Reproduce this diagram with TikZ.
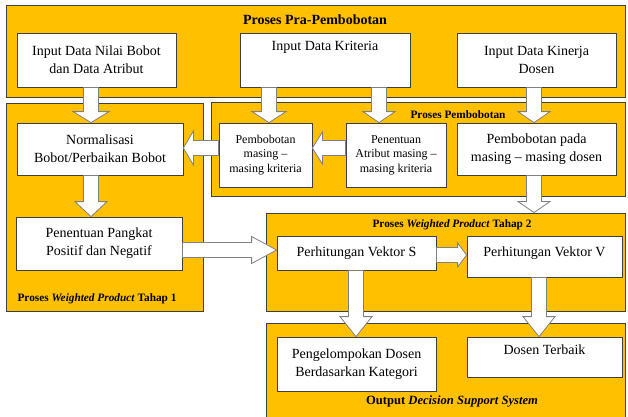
\documentclass[tikz,border=0pt]{standalone}
\usepackage{fontspec}
\setmainfont{Liberation Serif}
\usetikzlibrary{calc}

\definecolor{panelgold}{HTML}{FFC000}
\definecolor{edgegray}{HTML}{3F3F3F}
\definecolor{arrowgray}{HTML}{808080}

% block arrow: from, to, head length, half head width (pt)
\newcommand{\fatarrow}[4]{%
  \coordinate (fa) at ($(#2)!#3pt!(#1)$);
  \draw[fat] ($(#1)!7.5pt!90:(#2)$) -- ($(fa)!7.5pt!90:(#2)$) -- ($(fa)!#4pt!90:(#2)$) -- (#2)
    -- ($(fa)!#4pt!-90:(#2)$) -- ($(fa)!7.5pt!-90:(#2)$) -- ($(#1)!7.5pt!-90:(#2)$) -- cycle;
}

\begin{document}
\begin{tikzpicture}[x=1pt, y=-1pt,
  panel/.style={draw=edgegray, fill=panelgold, line width=0.9pt, inner sep=0pt},
  box/.style={draw=edgegray, fill=white, line width=0.8pt, inner sep=0pt, align=center,
    font=\fontsize{14}{18}\selectfont},
  smallbox/.style={box, font=\fontsize{12}{14.5}\selectfont},
  title/.style={font=\bfseries\fontsize{11.3}{13}\selectfont},
  fat/.style={draw=arrowgray, fill=white, line width=0.8pt, line join=miter}]
  \useasboundingbox (0,0) rectangle (628,416);
  \clip (0,0) rectangle (628,416);

  % Panels
  \node[panel, minimum width=619, minimum height=92] (pra) at (315.5,51) {};
  \node[panel, minimum width=197, minimum height=208] (wp1) at (104.5,207) {};
  \node[panel, minimum width=414, minimum height=94] (bobot) at (418,149) {};
  \node[panel, minimum width=359, minimum height=98] (wp2) at (445.5,262) {};
  \node[panel, minimum width=359, minimum height=102] (out) at (445.5,374) {};

  \node[title, font=\bfseries\fontsize{14}{16}\selectfont] (tpra) at (315,20) {Proses Pra-Pembobotan};
  \node[title] (tbobot) at (458,115) {Proses Pembobotan};
  \node[title, anchor=west] (twp1) at (14,299) {Proses \textit{Weighted Product} Tahap 1};
  \node[title] (twp2) at (452,225) {Proses \textit{Weighted Product} Tahap 2};
  \node[title, font=\bfseries\fontsize{12.6}{15}\selectfont] (tout) at (452,401) {Output \textit{Decision Support System}};

  % Pra-pembobotan
  \node[box, minimum width=159, minimum height=54] (inBobot) at (96.5,60) {Input Data Nilai Bobot\\dan Data Atribut};
  \node[box, minimum width=170, minimum height=54, text depth=28] (inKrit) at (325,60) {Input Data Kriteria};
  \node[box, minimum width=159, minimum height=54] (inKin) at (536.5,60) {Input Data Kinerja\\Dosen};

  % Pembobotan
  \node[box, minimum width=166, minimum height=52] (norm) at (100,149) {Normalisasi\\Bobot/Perbaikan Bobot};
  \node[smallbox, minimum width=93, minimum height=64] (pembM) at (265.5,155) {Pembobotan\\masing --\\masing kriteria};
  \node[smallbox, minimum width=100, minimum height=64] (penA) at (396,155) {Penentuan\\Atribut masing --\\masing kriteria};
  \node[box, minimum width=159, minimum height=52] (pembD) at (536.5,149) {Pembobotan pada\\masing -- masing dosen};

  % Weighted product
  \node[box, minimum width=166, minimum height=53] (pangkat) at (99,243.5) {Penentuan Pangkat\\Positif dan Negatif};
  \node[box, minimum width=159, minimum height=34] (vS) at (356.5,253) {Perhitungan Vektor S};
  \node[box, minimum width=155, minimum height=41, text depth=10] (vV) at (544.5,256.5) {Perhitungan Vektor V};

  % Output
  \node[box, minimum width=159, minimum height=54] (kelompok) at (356.5,364) {Pengelompokan Dosen\\Berdasarkan Kategori};
  \node[box, minimum width=155, minimum height=40, text depth=14] (terbaik) at (544.5,357) {Dosen Terbaik};

  % Arrows
  \coordinate (a1) at (91,0);
  \coordinate (a2) at (269,0);
  \coordinate (a3) at (379,0);
  \coordinate (a4) at (534,0);
  \coordinate (a5) at (0,148);
  \coordinate (a8) at (0,250);
  \coordinate (a9) at (0,255);
  \coordinate (a11) at (356,0);
  \coordinate (a12) at (539,0);

  \fatarrow{a1 |- inBobot.south}{a1 |- norm.north}{11}{18}
  \fatarrow{a2 |- inKrit.south}{a2 |- pembM.north}{11}{17}
  \fatarrow{a3 |- inKrit.south}{a3 |- penA.north}{11}{16}
  \fatarrow{a4 |- inKin.south}{a4 |- pembD.north}{11}{16}
  \fatarrow{penA.west |- a5}{pembM.east |- a5}{10}{16}
  \fatarrow{pembM.west |- a5}{norm.east |- a5}{10}{17}
  \fatarrow{a1 |- norm.south}{a1 |- pangkat.north}{15}{16}
  \fatarrow{pangkat.east |- a8}{vS.west |- a8}{25}{13.5}
  \fatarrow{vS.east |- a9}{vV.west |- a9}{9}{12}
  \fatarrow{a4 |- pembD.south}{a4 |- wp2.north}{11}{16}
  \fatarrow{a11 |- vS.south}{a11 |- kelompok.north}{20}{16}
  \fatarrow{a12 |- vV.south}{a12 |- terbaik.north}{20}{16}
\end{tikzpicture}
\end{document}
